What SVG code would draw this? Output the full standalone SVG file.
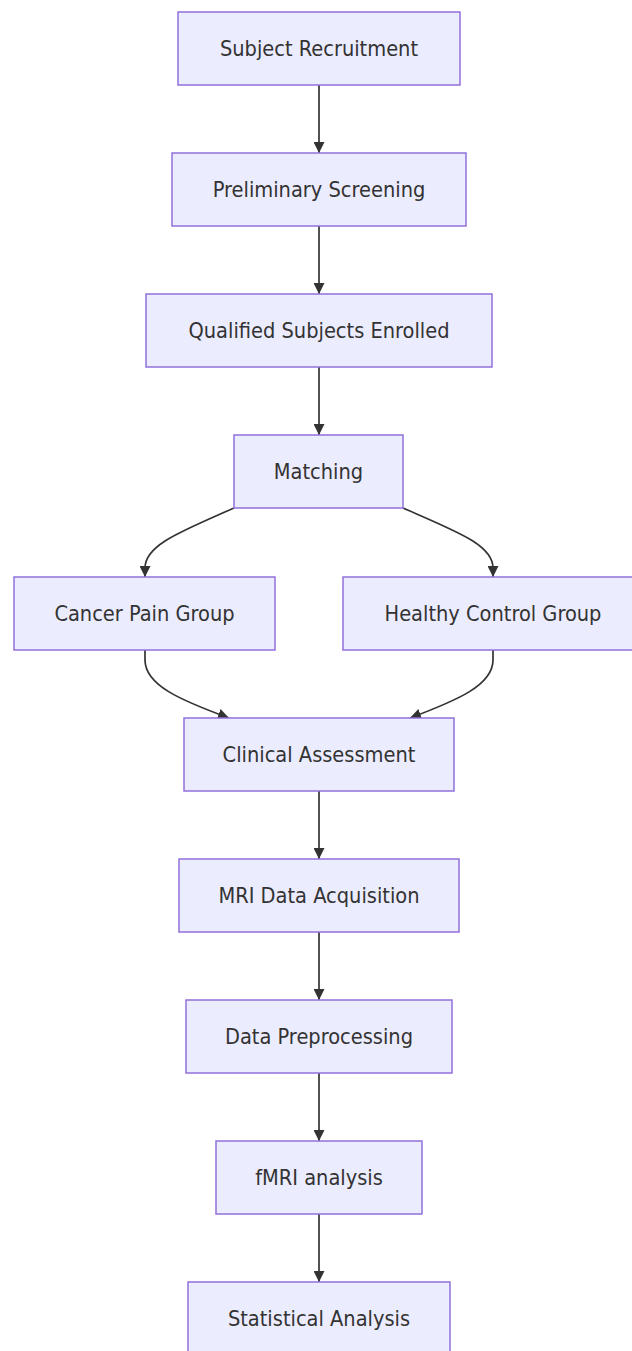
<svg xmlns="http://www.w3.org/2000/svg" width="632" height="1351" viewBox="0 0 632 1351">
<defs>
<style>
.node rect{fill:#ECECFF;stroke:#9370DB;stroke-width:1.5}
.node text{font-family:"DejaVu Sans Condensed","DejaVu Sans",sans-serif;font-size:21.6px;fill:#333;text-anchor:middle;dominant-baseline:central}
.edges path{fill:none;stroke:#333;stroke-width:1.7}
</style>
<marker id="arr" viewBox="0 0 10 10" refX="10" refY="5" markerWidth="11" markerHeight="11" markerUnits="userSpaceOnUse" orient="auto">
<path d="M0,0 L10,5 L0,10 z" fill="#333"/>
</marker>
</defs>
<rect width="632" height="1351" fill="#fff"/>
<g class="edges">
<path d="M319,85 L319,153" marker-end="url(#arr)"/>
<path d="M319,226 L319,294" marker-end="url(#arr)"/>
<path d="M319,367 L319,435" marker-end="url(#arr)"/>
<path d="M234,508 C180,532 145,545 145,568 L145,577" marker-end="url(#arr)"/>
<path d="M403,508 C458,532 493,545 493,568 L493,577" marker-end="url(#arr)"/>
<path d="M145,650 L145,660 C145,685 180,700 229,718" marker-end="url(#arr)"/>
<path d="M493,650 L493,660 C493,685 458,700 410,718" marker-end="url(#arr)"/>
<path d="M319,791 L319,859" marker-end="url(#arr)"/>
<path d="M319,932 L319,1000" marker-end="url(#arr)"/>
<path d="M319,1073 L319,1141" marker-end="url(#arr)"/>
<path d="M319,1214 L319,1282" marker-end="url(#arr)"/>
</g>
<g id="n1" class="node"><rect x="178" y="12" width="282" height="73"/><text x="319" y="48.5">Subject Recruitment</text></g>
<g id="n2" class="node"><rect x="172" y="153" width="294" height="73"/><text x="319" y="189.5">Preliminary Screening</text></g>
<g id="n3" class="node"><rect x="146" y="294" width="346" height="73"/><text x="319" y="330.5">Qualified Subjects Enrolled</text></g>
<g id="n4" class="node"><rect x="234" y="435" width="169" height="73"/><text x="318.5" y="471.5">Matching</text></g>
<g id="n5" class="node"><rect x="14" y="577" width="261" height="73"/><text x="144.5" y="613.5">Cancer Pain Group</text></g>
<g id="n6" class="node"><rect x="343" y="577" width="300" height="73"/><text x="493" y="613.5">Healthy Control Group</text></g>
<g id="n7" class="node"><rect x="184" y="718" width="270" height="73"/><text x="319" y="754.5">Clinical Assessment</text></g>
<g id="n8" class="node"><rect x="179" y="859" width="280" height="73"/><text x="319" y="895.5">MRI Data Acquisition</text></g>
<g id="n9" class="node"><rect x="186" y="1000" width="266" height="73"/><text x="319" y="1036.5">Data Preprocessing</text></g>
<g id="n10" class="node"><rect x="216" y="1141" width="206" height="73"/><text x="319" y="1177.5">fMRI analysis</text></g>
<g id="n11" class="node"><rect x="188" y="1282" width="262" height="73"/><text x="319" y="1318.5">Statistical Analysis</text></g>
</svg>
